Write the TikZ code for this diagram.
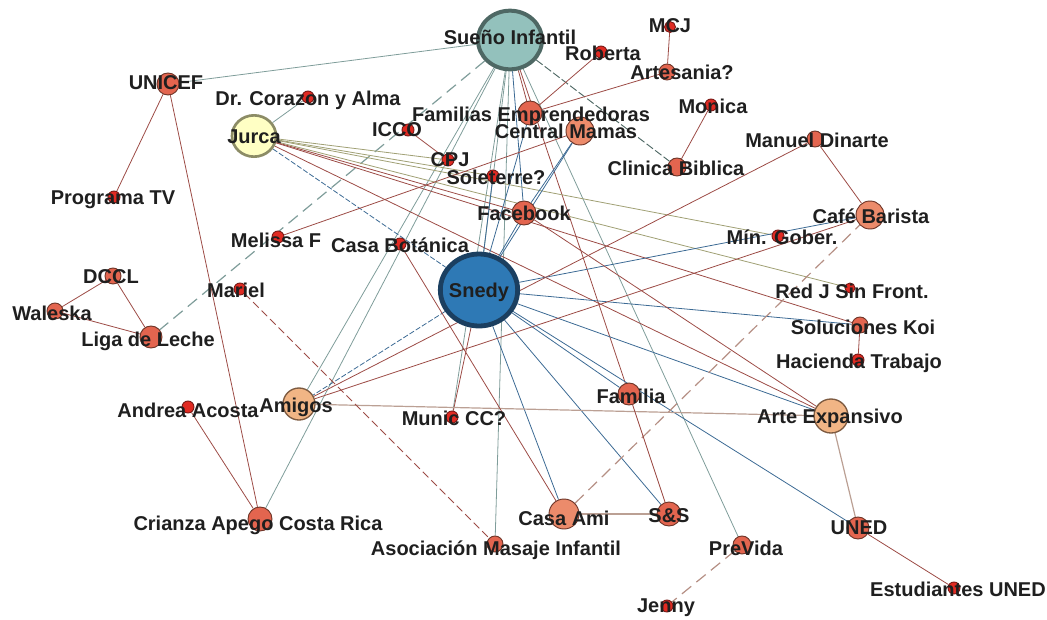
\documentclass[tikz,border=0pt]{standalone}
\usepackage{fontspec}
\setmainfont{Liberation Sans}
\usetikzlibrary{shapes.geometric,backgrounds}

\definecolor{redfill}{HTML}{E02A22}
\definecolor{redline}{HTML}{7A1A16}
\definecolor{salmonfill}{HTML}{E3654F}
\definecolor{salmonline}{HTML}{6E3528}
\definecolor{lightfill}{HTML}{EC8B6B}
\definecolor{peachfill}{HTML}{F1B585}
\definecolor{peachline}{HTML}{7D5A40}
\definecolor{suenofill}{HTML}{93C1BC}
\definecolor{suenoline}{HTML}{4E6864}
\definecolor{snedyfill}{HTML}{2E79B5}
\definecolor{snedyline}{HTML}{1B3F60}
\definecolor{jurcafill}{HTML}{FFFFC4}
\definecolor{jurcaline}{HTML}{8C8C66}
\definecolor{sueedge}{HTML}{7F9D9A}
\definecolor{snedge}{HTML}{3C6A94}
\definecolor{juedge}{HTML}{A0A074}
\definecolor{rededge}{HTML}{9C4B45}
\definecolor{tanedge}{HTML}{BBA094}

\tikzset{
  dot/.style={circle,draw=redline,fill=redfill,line width=0.7,inner sep=0pt,minimum size={#1*0.75pt}},
  dot/.default=12,
  mid/.style={dot=#1,draw=salmonline,fill=salmonfill},
  light/.style={dot=#1,draw=salmonline,fill=lightfill},
  peach/.style={dot=#1,draw=peachline,fill=peachfill,line width=1},
  lbl/.style={inner sep=0pt,text=black!88,font=\bfseries\fontsize{15}{17}\selectfont},
  sE/.style={draw=sueedge,line width=0.6},
  nE/.style={draw=snedge,line width=0.6},
  jE/.style={draw=juedge,line width=0.6},
  rE/.style={draw=rededge,line width=0.6},
  tE/.style={draw=tanedge,line width=0.9},
  longdash/.style={dash pattern=on 9pt off 5pt,line width=0.9}
}

\begin{document}
\begin{tikzpicture}[x=0.75pt,y=0.75pt,yscale=-1,xscale=1]
\useasboundingbox (0,0) rectangle (1047,619);

%Shape: big circles
\draw (510,40) node [ellipse,draw=suenoline,fill=suenofill,line width=3,minimum width=48pt,minimum height=44pt] (sueno) {};
\draw (479,290) node [ellipse,draw=snedyline,fill=snedyfill,line width=3.6,minimum width=58pt,minimum height=54pt] (snedy) {};
\draw (254,136) node [ellipse,draw=jurcaline,fill=jurcafill,line width=2,minimum width=33pt,minimum height=31pt] (jurca) {};

%Shape: other circles
\draw (168,84) node [mid=22] (unicef) {};
\draw (308,97) node [dot] (corazon) {};
\draw (114,197) node [dot] (programa) {};
\draw (408,130) node [dot] (icco) {};
\draw (448,160) node [dot] (cpj) {};
\draw (493,176) node [dot] (soleterre) {};
\draw (530,113) node [mid=24] (familias) {};
\draw (580,131) node [light=28] (central) {};
\draw (601,52) node [dot] (roberta) {};
\draw (670,27) node [dot=11] (mcj) {};
\draw (667,72) node [mid=16] (artesania) {};
\draw (711,105) node [dot] (monica) {};
\draw (677,167) node [mid=18] (clinica) {};
\draw (815,139) node [mid=16] (manuel) {};
\draw (870,215) node [light=28] (cafe) {};
\draw (778,236) node [dot] (gober) {};
\draw (850,288) node [dot=10] (redj) {};
\draw (860,325) node [mid=16] (koi) {};
\draw (858,360) node [dot] (hacienda) {};
\draw (524,213) node [mid=24] (facebook) {};
\draw (278,237) node [dot] (melissa) {};
\draw (400,244) node [dot] (botanica) {};
\draw (113,276) node [mid=16] (dccl) {};
\draw (55,311) node [mid=16] (waleska) {};
\draw (151,337) node [mid=22] (liga) {};
\draw (240,289) node [dot] (mariel) {};
\draw (188,407) node [dot] (andrea) {};
\draw (299,404) node [peach=32] (amigos) {};
\draw (452,417) node [dot] (munic) {};
\draw (629,394) node [mid=22] (familia) {};
\draw (831,416) node [peach=34] (arte) {};
\draw (260,519) node [mid=24] (crianza) {};
\draw (564,514) node [light=30] (casaami) {};
\draw (669,514) node [mid=24] (ss) {};
\draw (495,544) node [mid=16] (masaje) {};
\draw (742,545) node [mid=18] (previda) {};
\draw (858,528) node [mid=22] (uned) {};
\draw (954,588) node [dot] (estudiantes) {};
\draw (667,606) node [dot] (jenny) {};

% Text Node
\draw (510,37) node [lbl] (sueno-t) {Sueño Infantil};
\draw (479,292) node [lbl] (snedy-t) {Snedy};
\draw (254,137) node [lbl] (jurca-t) {Jurca};
\draw (166,83) node [lbl] (unicef-t) {UNICEF};
\draw (308,100) node [lbl] (corazon-t) {Dr. Corazon y Alma};
\draw (113,200) node [lbl] (programa-t) {Programa TV};
\draw (397,130) node [lbl] (icco-t) {ICCO};
\draw (450,160) node [lbl] (cpj-t) {CPJ};
\draw (496,177) node [lbl] (soleterre-t) {Soleterre?};
\draw (531,116) node [lbl] (familias-t) {Familias Emprendedoras};
\draw (566,131) node [lbl] (central-t) {Central Mamas};
\draw (603,53) node [lbl] (roberta-t) {Roberta};
\draw (670,26) node [lbl] (mcj-t) {MCJ};
\draw (682,72) node [lbl] (artesania-t) {Artesania?};
\draw (713,106) node [lbl] (monica-t) {Monica};
\draw (676,168) node [lbl] (clinica-t) {Clinica Biblica};
\draw (817,140) node [lbl] (manuel-t) {Manuel Dinarte};
\draw (871,216) node [lbl] (cafe-t) {Café Barista};
\draw (782,237) node [lbl] (gober-t) {Mín. Gober.};
\draw (852,291) node [lbl] (redj-t) {Red J Sin Front.};
\draw (863,327) node [lbl] (koi-t) {Soluciones Koi};
\draw (859,363) node [lbl] (hacienda-t) {Hacienda Trabajo};
\draw (524,213) node [lbl] (facebook-t) {Facebook};
\draw (276,240) node [lbl] (melissa-t) {Melissa F};
\draw (400,245) node [lbl] (botanica-t) {Casa Botánica};
\draw (111,277) node [lbl] (dccl-t) {DCCL};
\draw (52,313) node [lbl] (waleska-t) {Waleska};
\draw (148,341) node [lbl] (liga-t) {Liga de Leche};
\draw (236,290) node [lbl] (mariel-t) {Mariel};
\draw (188,410) node [lbl] (andrea-t) {Andrea Acosta};
\draw (296,407) node [lbl] (amigos-t) {Amigos};
\draw (454,418) node [lbl] (munic-t) {Munic CC?};
\draw (631,396) node [lbl] (familia-t) {Familia};
\draw (830,418) node [lbl] (arte-t) {Arte Expansivo};
\draw (258,525) node [lbl] (crianza-t) {Crianza Apego Costa Rica};
\draw (564,518) node [lbl] (casaami-t) {Casa Ami};
\draw (669,516) node [lbl] (ss-t) {S\&S};
\draw (496,550) node [lbl] (masaje-t) {Asociación Masaje Infantil};
\draw (746,548) node [lbl] (previda-t) {PreVida};
\draw (859,528) node [lbl] (uned-t) {UNED};
\draw (958,589) node [lbl] (estudiantes-t) {Estudiantes UNED};
\draw (666,608) node [lbl] (jenny-t) {Jenny};

%Straight Lines
\begin{scope}[on background layer]
\draw [sE] (sueno) -- (unicef);
\draw [sE,longdash] (sueno) -- (liga);
\draw [sE] (sueno) -- (snedy);
\draw [nE] (sueno) -- (facebook);
\draw [draw=suenoline,line width=0.7,dash pattern=on 6pt off 2pt] (sueno) -- (clinica);
\draw [rE] (sueno) -- (familia);
\draw [rE] (sueno) -- (familias);
\draw [sE] (sueno) -- (previda);
\draw [sE] (sueno) -- (masaje);
\draw [sE] (sueno) -- (crianza);
\draw [sE] (sueno) -- (munic);
\draw [sE] (sueno) -- (amigos);

\draw [sE] (jurca) -- (corazon);
\draw [nE,dash pattern=on 4pt off 1.5pt] (jurca) -- (snedy);
\draw [jE] (jurca) -- (cpj);
\draw [jE] (jurca) -- (soleterre);
\draw [rE] (jurca) -- (facebook);
\draw [jE] (jurca) -- (gober);
\draw [jE] (jurca) -- (redj);
\draw [rE] (jurca) -- (arte);
\draw [rE] (jurca) -- (koi);

\draw [nE] (snedy) -- (facebook);
\draw [nE] (snedy) -- (central);
\draw [nE] (snedy) -- (familias);
\draw [nE] (snedy) -- (soleterre);
\draw [nE] (snedy) -- (cafe);
\draw [nE] (snedy) -- (koi);
\draw [nE] (snedy) -- (arte);
\draw [nE] (snedy) -- (uned);
\draw [nE] (snedy) -- (ss);
\draw [nE] (snedy) -- (casaami);
\draw [nE] (snedy) -- (familia);
\draw [rE] (snedy) -- (munic);
\draw [nE,dash pattern=on 4pt off 1.5pt] (snedy) -- (amigos);

\draw [rE] (unicef) -- (programa);
\draw [rE] (unicef) -- (crianza);
\draw [rE] (dccl) -- (waleska);
\draw [rE] (dccl) -- (liga);
\draw [rE] (waleska) -- (liga);
\draw [rE] (andrea) -- (crianza);
\draw [tE] (amigos) -- (arte);
\draw [rE] (amigos) -- (cafe);
\draw [rE] (amigos) -- (manuel);
\draw [rE,dash pattern=on 6pt off 3pt] (mariel) -- (masaje);
\draw [rE] (melissa) -- (central);
\draw [rE] (botanica) -- (casaami);
\draw [tE] (casaami) -- (ss);
\draw [draw=tanedge!80!rededge,longdash] (casaami) -- (cafe);
\draw [rE] (familia) -- (ss);
\draw [tE] (arte) -- (uned);
\draw [rE] (uned) -- (estudiantes);
\draw [draw=tanedge!80!rededge,longdash] (previda) -- (jenny);
\draw [rE] (manuel) -- (cafe);
\draw [rE] (koi) -- (hacienda);
\draw [rE] (mcj) -- (artesania);
\draw [rE] (artesania) -- (familias);
\draw [rE] (roberta) -- (familias);
\draw [rE] (monica) -- (clinica);
\draw [rE] (icco) -- (cpj);
\draw [rE] (facebook) -- (arte);
\draw [nE] (facebook) -- (central);
\end{scope}
\end{tikzpicture}
\end{document}
